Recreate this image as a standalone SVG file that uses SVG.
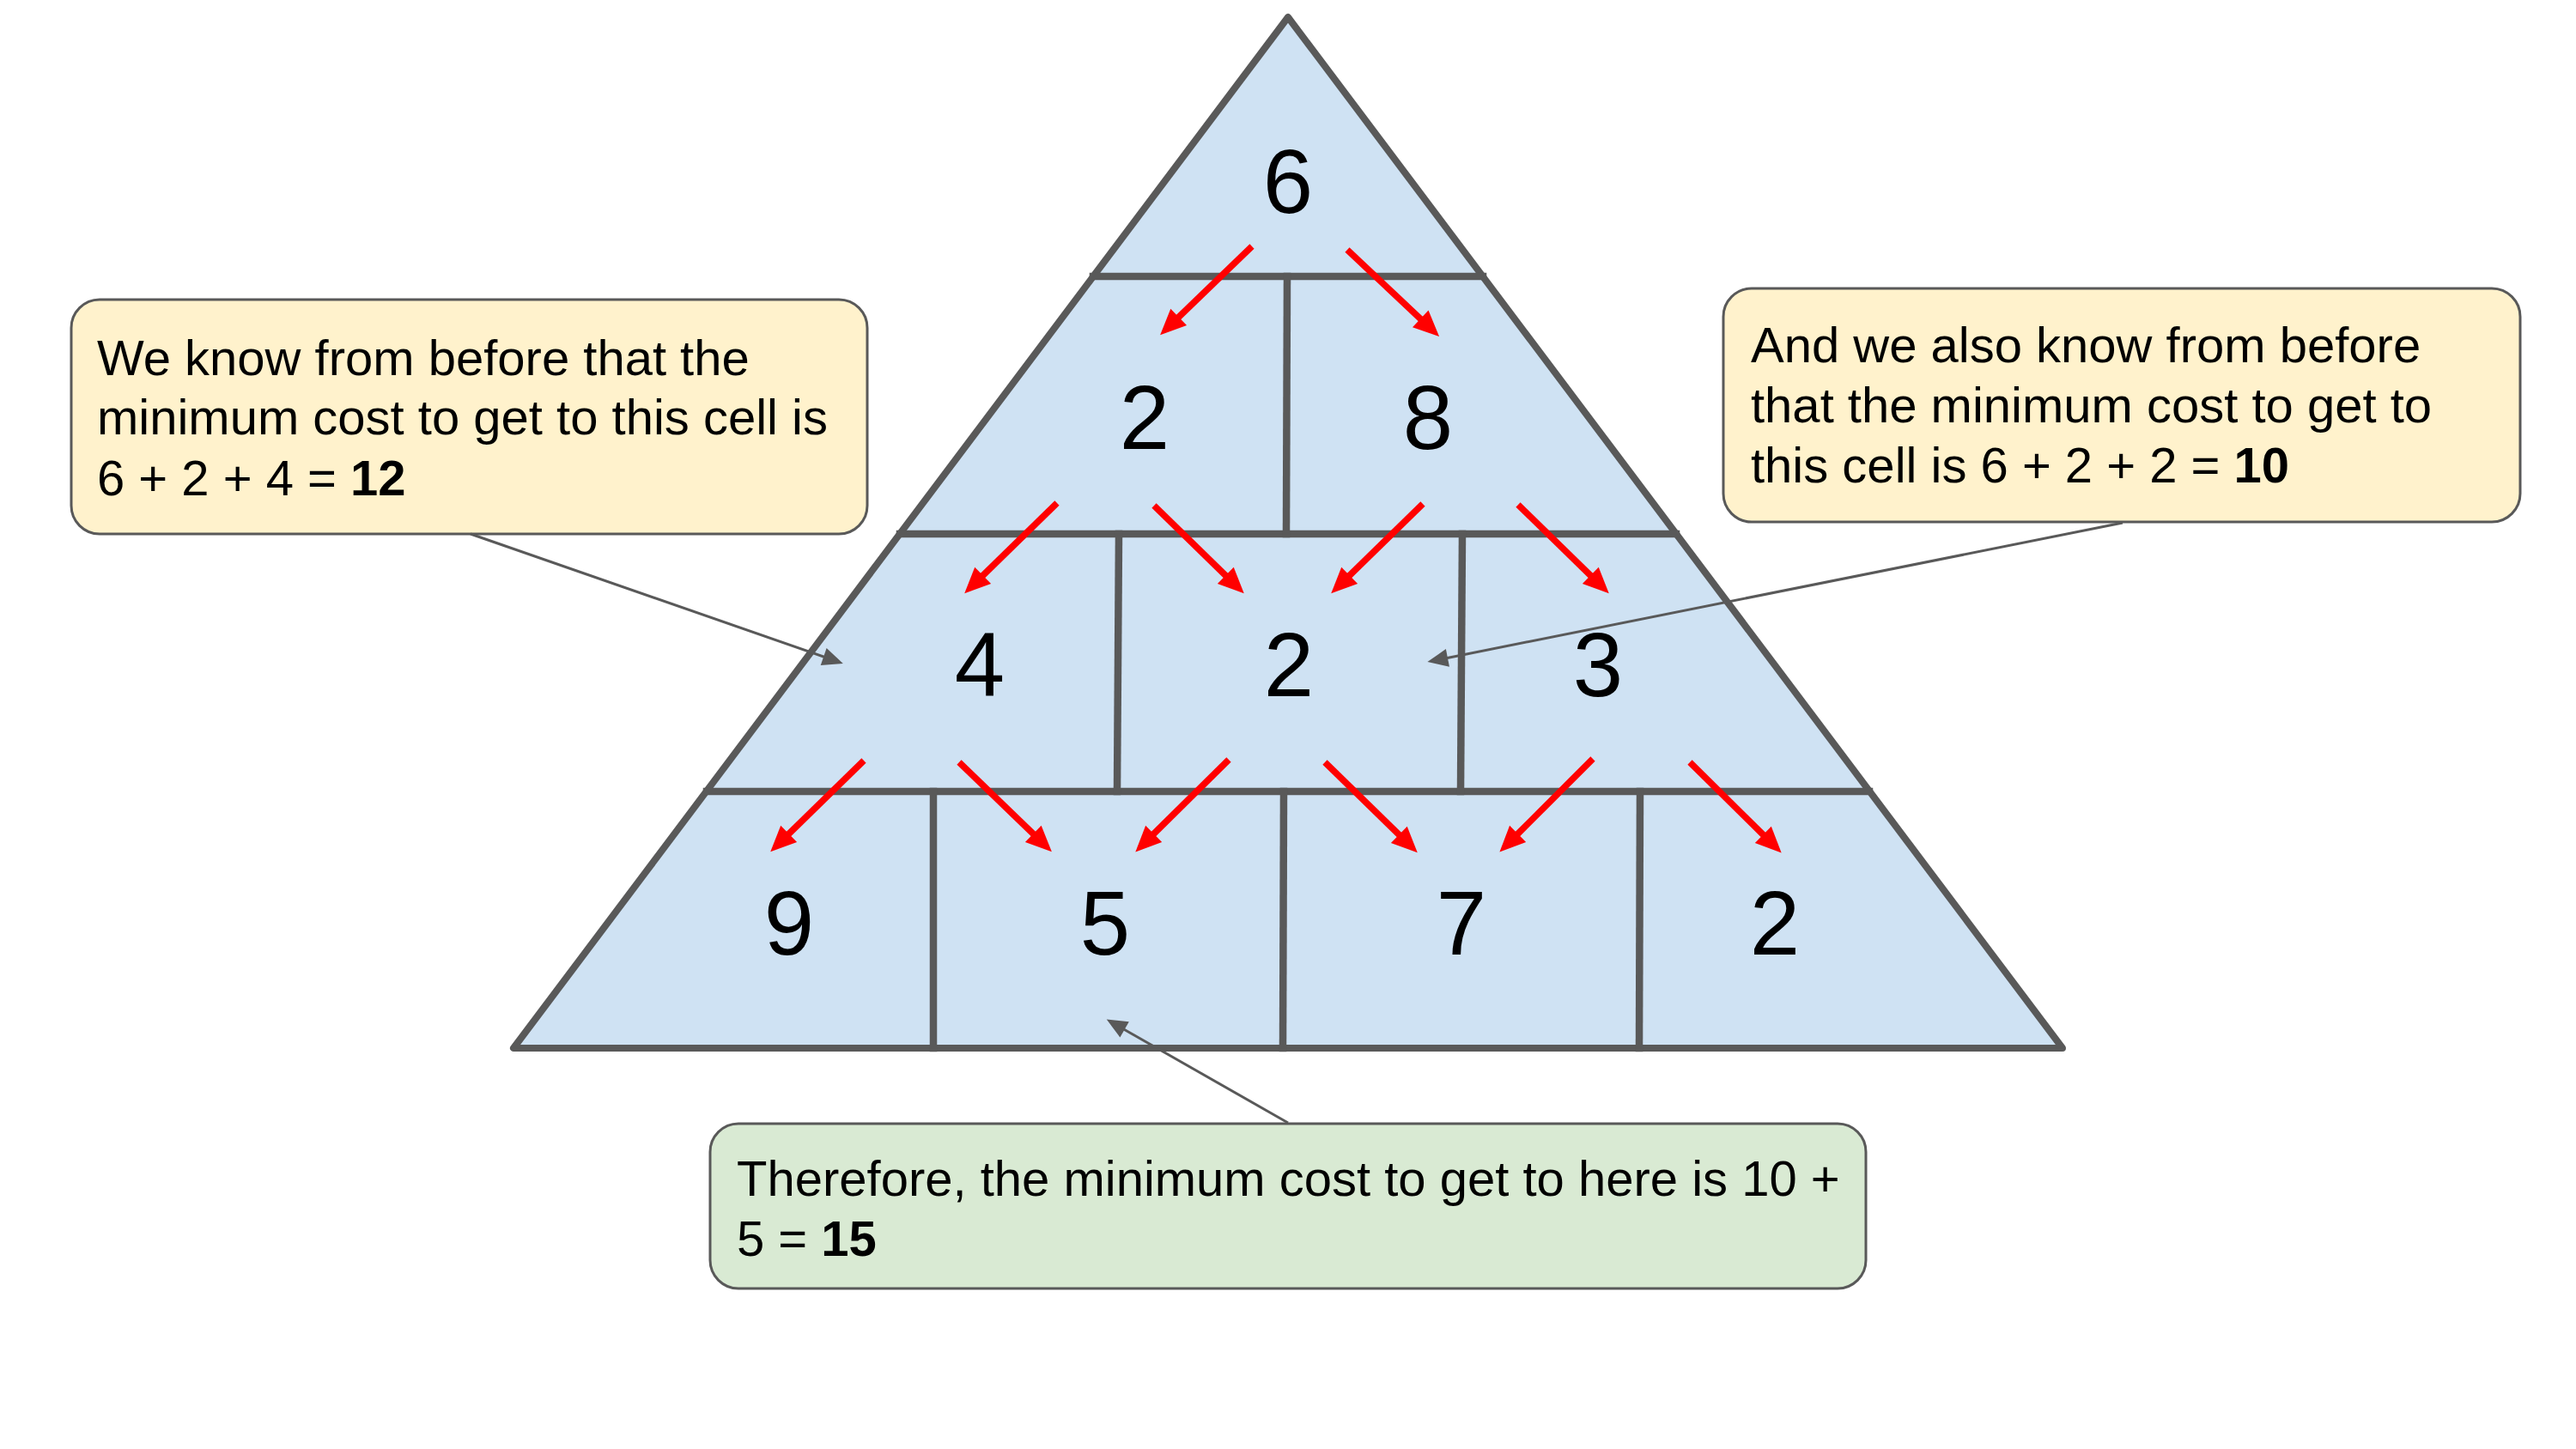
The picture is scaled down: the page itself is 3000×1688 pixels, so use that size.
<svg xmlns="http://www.w3.org/2000/svg" width="3000" height="1688" viewBox="0 0 3000 1688">
<style>
.num{font-family:"Liberation Sans",Arial,sans-serif;font-size:105px;fill:#000;text-anchor:middle}
.txt{font-family:"Liberation Sans",Arial,sans-serif;font-size:58px;fill:#000}
.b{font-weight:bold}
.grid{stroke:#595959;stroke-width:8.5;fill:none;stroke-linecap:square}
.red{stroke:#ff0000;stroke-width:7.5;fill:none;marker-end:url(#redHead)}
.gray{stroke:#595959;stroke-width:3;fill:none;marker-end:url(#grayHead)}
.box{stroke:#595959;stroke-width:3}
</style>
<defs>
<marker id="redHead" markerUnits="strokeWidth" markerWidth="5" markerHeight="4" refX="0.5" refY="1.8" orient="auto" overflow="visible">
<path d="M0,0 L4,1.8 L0,3.6 z" fill="#ff0000"/>
</marker>
<marker id="grayHead" markerUnits="strokeWidth" markerWidth="9" markerHeight="8" refX="1" refY="3.5" orient="auto" overflow="visible">
<path d="M0,0 L8,3.5 L0,7 z" fill="#595959"/>
</marker>
</defs>
<rect width="3000" height="1688" fill="#ffffff"/>

<g id="pyramid">
<polygon points="1500,20 598,1221 2402,1221" fill="#cfe2f3" stroke="#595959" stroke-width="8" stroke-linejoin="round"/>
<line class="grid" x1="1273" y1="322" x2="1727" y2="322"/>
<line class="grid" x1="1048" y1="622" x2="1952" y2="622"/>
<line class="grid" x1="823" y1="922" x2="2177" y2="922"/>
<line class="grid" x1="1499" y1="322" x2="1498" y2="622"/>
<line class="grid" x1="1303" y1="622" x2="1301" y2="922"/>
<line class="grid" x1="1703" y1="622" x2="1701" y2="922"/>
<line class="grid" x1="1087" y1="922" x2="1087" y2="1221"/>
<line class="grid" x1="1495" y1="922" x2="1494" y2="1221"/>
<line class="grid" x1="1910" y1="922" x2="1909" y2="1221"/>
</g>

<g id="cell-r1-6"><text class="num" x="1500" y="248">6</text></g>
<g id="cell-r2-2"><text class="num" x="1333" y="523">2</text></g>
<g id="cell-r2-8"><text class="num" x="1663" y="523">8</text></g>
<g id="cell-r3-4"><text class="num" x="1141" y="811">4</text></g>
<g id="cell-r3-2"><text class="num" x="1501" y="811">2</text></g>
<g id="cell-r3-3"><text class="num" x="1861" y="811">3</text></g>
<g id="cell-r4-9"><text class="num" x="919" y="1112">9</text></g>
<g id="cell-r4-5"><text class="num" x="1287" y="1112">5</text></g>
<g id="cell-r4-7"><text class="num" x="1702" y="1112">7</text></g>
<g id="cell-r4-2"><text class="num" x="2067" y="1112">2</text></g>

<g id="note-left">
<rect class="box" x="83" y="349" width="927" height="273" rx="33" ry="33" fill="#fff2cc"/>
<text class="txt" x="113" y="437">We know from before that the</text>
<text class="txt" x="113" y="506">minimum cost to get to this cell is</text>
<text class="txt" x="113" y="577">6 + 2 + 4 = <tspan class="b">12</tspan></text>
</g>

<g id="note-right">
<rect class="box" x="2007" y="336" width="928" height="272" rx="33" ry="33" fill="#fff2cc"/>
<text class="txt" x="2039" y="422">And we also know from before</text>
<text class="txt" x="2039" y="492">that the minimum cost to get to</text>
<text class="txt" x="2039" y="562">this cell is 6 + 2 + 2 = <tspan class="b">10</tspan></text>
</g>

<g id="note-bottom">
<rect class="box" x="827" y="1309" width="1346" height="192" rx="33" ry="33" fill="#d9ead3"/>
<text class="txt" x="858" y="1393">Therefore, the minimum cost to get to here is 10 +</text>
<text class="txt" x="858" y="1463">5 = <tspan class="b">15</tspan></text>
</g>

<g id="connectors">
<line class="red" x1="1458" y1="287" x2="1370" y2="372"/>
<line class="red" x1="1569" y1="291" x2="1657" y2="374"/>
<line class="red" x1="1231" y1="586" x2="1142" y2="673"/>
<line class="red" x1="1344" y1="589" x2="1430" y2="673"/>
<line class="red" x1="1657" y1="587" x2="1569" y2="673"/>
<line class="red" x1="1768" y1="588" x2="1855" y2="673"/>
<line class="red" x1="1006" y1="886" x2="916" y2="974"/>
<line class="red" x1="1117" y1="888" x2="1206" y2="974"/>
<line class="red" x1="1431" y1="885" x2="1341" y2="974"/>
<line class="red" x1="1543" y1="888" x2="1632" y2="975"/>
<line class="red" x1="1855" y1="884" x2="1765" y2="974"/>
<line class="red" x1="1968" y1="888" x2="2056" y2="975"/>
<line class="gray" x1="548" y1="622" x2="962" y2="766"/>
<line class="gray" x1="2472" y1="609" x2="1683" y2="767"/>
<line class="gray" x1="1500" y1="1308" x2="1307" y2="1198"/>
</g>
</svg>
